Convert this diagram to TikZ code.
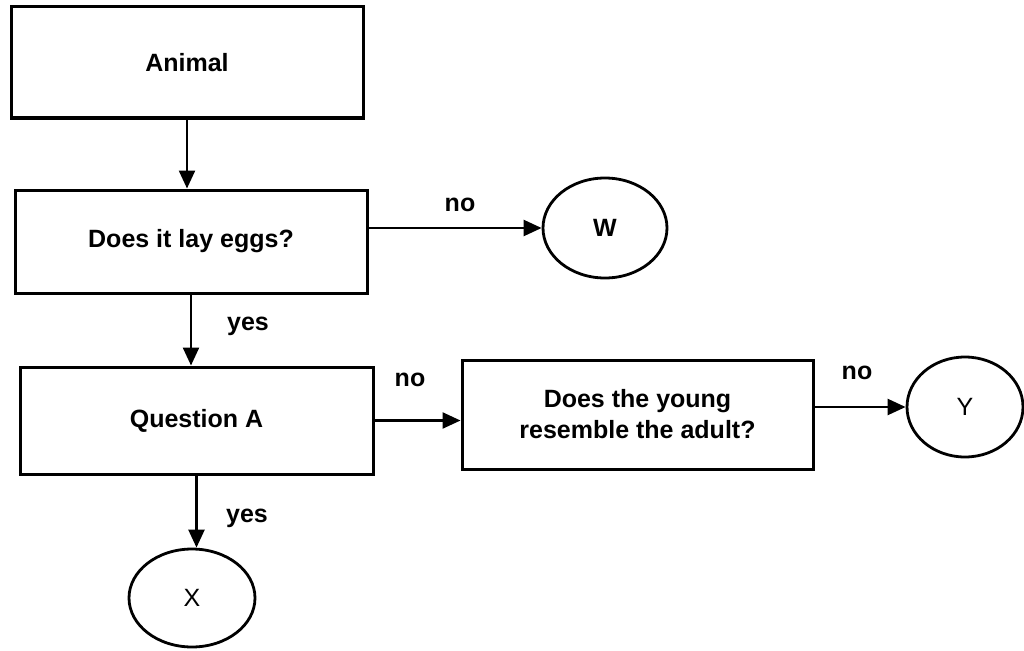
\documentclass[tikz,border=0pt]{standalone}
\usepackage{fontspec}
\setmainfont{Liberation Sans}
\usetikzlibrary{arrows.meta,shapes.geometric}
\begin{document}
\begin{tikzpicture}[x=1pt,y=-1pt,
  every node/.style={font=\fontsize{25}{31}\selectfont\bfseries},
  box/.style={draw,line width=3pt,rectangle,inner sep=0pt,align=center},
  term/.style={draw,line width=2.8pt,ellipse,inner sep=0pt},
  lbl/.style={inner sep=0pt},
  arr/.style={line width=2.4pt,-{Triangle[length=18pt,width=16pt]}}]
\useasboundingbox (0,0) rectangle (1024,650);
\node[box,minimum width=352pt,minimum height=111pt] (animal) at (187,62.5) {Animal};
\node[box,minimum width=352pt,minimum height=103pt] (eggs) at (191,241.5) {Does it lay eggs?};
\node[box,minimum width=353pt,minimum height=107pt] (qa) at (196.5,420.5) {Question A};
\node[box,minimum width=351pt,minimum height=109pt] (young) at (637.5,414.5) {Does the young\\resemble the adult?};
\node[term,minimum width=124pt,minimum height=100pt] (W) at (605,228) {W};
\node[term,minimum width=116pt,minimum height=100pt,font=\fontsize{25}{31}\selectfont] (Y) at (965,407) {Y};
\node[term,minimum width=126pt,minimum height=98pt,font=\fontsize{25}{31}\selectfont] (X) at (192,598) {X};
\draw[arr] (animal.south) -- (animal.south |- eggs.north);
\draw[arr] (eggs.south) -- (eggs.south |- qa.north);
\draw[arr] (qa.south) -- (qa.south |- X.north);
\draw[arr] (eggs.east |- W.west) -- (W.west);
\draw[arr] (qa.east) -- (qa.east -| young.west);
\draw[arr] (young.east |- Y.west) -- (Y.west);
\node[lbl] (no1) at (460,205) {no};
\node[lbl] (yes1) at (248,326) {yes};
\node[lbl] (no2) at (410,380) {no};
\node[lbl] (no3) at (857,373) {no};
\node[lbl] (yes2) at (247,518) {yes};
\end{tikzpicture}
\end{document}
